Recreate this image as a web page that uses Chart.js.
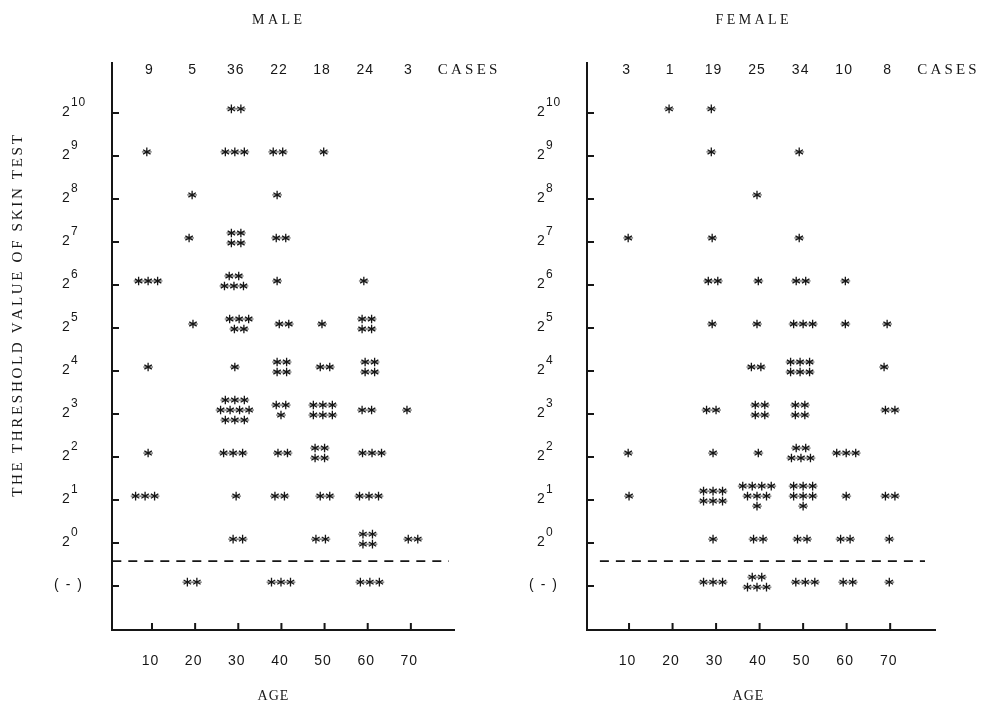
<!DOCTYPE html>
<html>
<head>
<meta charset="utf-8">
<script src="https://cdn.jsdelivr.net/npm/chart.js@4.4.1/dist/chart.umd.min.js"></script>
<style>
  html, body { margin: 0; padding: 0; background: #fff; }
  #wrap { position: relative; width: 981px; height: 703px; overflow: hidden; }
  .panel { position: absolute; top: 0; height: 703px; }
  #p-male { left: 0; width: 520px; }
  #p-female { left: 490px; width: 491px; }
</style>
</head>
<body>
<div id="wrap">
  <div class="panel" id="p-male"><canvas id="c-male"></canvas></div>
  <div class="panel" id="p-female"><canvas id="c-female"></canvas></div>
</div>
<script>
/* Skin test threshold by age, male vs female. Each entry = one cluster of
   asterisks ("/" separates stacked rows, one * per case). */

const AGE_TICKS = [10, 20, 30, 40, 50, 60, 70];
const LEVELS = [-1, 0, 1, 2, 3, 4, 5, 6, 7, 8, 9, 10]; // -1 = "( - )", n = 2^n
const MALE_CASES = [9, 5, 36, 22, 18, 24, 3];
const FEMALE_CASES = [3, 1, 19, 25, 34, 10, 8];
const CUTOFF = -0.42; // dashed separator between 2^0 and (-)

const maleLevel = [10, 9, 9, 9, 9, 8, 8, 7, 7, 7, 6, 6, 6, 6, 5, 5, 5, 5, 5, 4, 4, 4, 4, 4,
  3, 3, 3, 3, 3, 2, 2, 2, 2, 2, 1, 1, 1, 1, 1, 0, 0, 0, 0, -1, -1, -1];
const maleAge = [29.5, 8.8, 29.2, 39.2, 49.8, 19.3, 39.0, 18.6, 29.5, 39.9, 9.1, 29.0, 39.0, 59.1,
  19.5, 30.2, 40.6, 49.4, 59.8, 9.1, 29.2, 40.1, 50.1, 60.5, 29.2, 39.9, 49.6, 59.8, 69.1,
  9.1, 28.8, 40.3, 48.9, 61.0, 8.4, 29.5, 39.6, 50.1, 60.3, 29.9, 49.1, 60.0, 70.5, 19.3, 39.9, 60.5];
const maleStars = ["**", "*", "***", "**", "*", "*", "*", "*", "**/**", "**", "***", "**/***", "*", "*",
  "*", "***/**", "**", "*", "**/**", "*", "*", "**/**", "**", "**/**", "***/****/***", "**/*", "***/***", "**", "*",
  "*", "***", "**", "**/**", "***", "***", "*", "**", "**", "***", "**", "**", "**/**", "**", "**", "***", "***"];
const maleCutoffX = [0.8, 78.8];

const femaleLevel = [10, 10, 9, 9, 8, 7, 7, 7, 6, 6, 6, 6, 5, 5, 5, 5, 5, 4, 4, 4, 3, 3, 3, 3,
  2, 2, 2, 2, 2, 1, 1, 1, 1, 1, 1, 0, 0, 0, 0, 0, -1, -1, -1, -1, -1];
const femaleAge = [19.2, 28.9, 28.9, 49.1, 39.4, 9.8, 29.1, 49.1, 29.3, 39.7, 49.5, 59.7,
  29.1, 39.4, 50.0, 59.7, 69.3, 39.2, 49.3, 68.6, 28.9, 40.1, 49.3, 70.0,
  9.8, 29.3, 39.7, 49.5, 59.9, 10.0, 29.3, 39.4, 50.0, 59.9, 70.0,
  29.3, 39.7, 49.8, 59.7, 69.8, 29.3, 39.4, 50.5, 60.3, 69.8];
const femaleStars = ["*", "*", "*", "*", "*", "*", "*", "*", "**", "*", "**", "*", "*", "*", "***", "*", "*",
  "**", "***/***", "*", "**", "**/**", "**/**", "**", "*", "*", "*", "**/***", "***",
  "*", "***/***", "****/***/*", "***/***/*", "*", "**", "*", "**", "**", "**", "*",
  "***", "**/***", "***", "**", "*"];
const femaleCutoffX = [3.3, 78.0];

const INK = "#161616";
const SERIF = '"Liberation Serif", "DejaVu Serif", serif';
const SANS = '"Liberation Sans", "DejaVu Sans", sans-serif';

/* ---------------- drawing helpers ---------------- */
function spacedText(ctx, text, x, y, gap, align) {
  const chars = [...text];
  const ws = chars.map(ch => ctx.measureText(ch).width);
  const total = ws.reduce((a, b) => a + b, 0) + gap * (chars.length - 1);
  let cx = align === "center" ? x - total / 2 : align === "right" ? x - total : x;
  ctx.textAlign = "left";
  chars.forEach((ch, i) => { ctx.fillText(ch, cx, y); cx += ws[i] + gap; });
}

function asterisk(ctx, x, y, r) {
  const dx = r * 0.87, dy = r * 0.5;
  ctx.lineWidth = 1.3;
  ctx.beginPath();
  ctx.moveTo(x, y - r); ctx.lineTo(x, y + r);
  ctx.moveTo(x - dx, y - dy); ctx.lineTo(x + dx, y + dy);
  ctx.moveTo(x - dx, y + dy); ctx.lineTo(x + dx, y - dy);
  ctx.stroke();
  ctx.lineWidth = 0.8;
  ctx.beginPath(); ctx.moveTo(x - r - 0.6, y); ctx.lineTo(x + r + 0.6, y); ctx.stroke();
}

/* stars: one glyph per case, laid out round the point the scales give */
const starPlugin = {
  id: "stars",
  afterDatasetsDraw(chart) {
    const ctx = chart.ctx, ds = chart.data.datasets[0];
    const meta = chart.getDatasetMeta(0);
    ctx.save();
    ctx.strokeStyle = INK;
    meta.data.forEach((el, i) => {
      const rows = ds.data[i].p.split("/");
      const cy = el.y - 4; // typewriter asterisk sits high on the line
      rows.forEach((row, ri) => {
        const ry = cy + (ri - (rows.length - 1) / 2) * 10;
        for (let j = 0; j < row.length; j++) asterisk(ctx, el.x + (j - (row.length - 1) / 2) * 9.5, ry, 4.3);
      });
    });
    ctx.restore();
  },
};

/* ticks, labels, case counts, titles */
const decorPlugin = {
  id: "decor",
  afterDraw(chart, args, o) {
    const { ctx, chartArea: a, scales: { x, y } } = chart;
    ctx.save();
    ctx.fillStyle = INK; ctx.strokeStyle = INK;

    ctx.lineWidth = 2;
    ctx.beginPath();
    LEVELS.forEach(v => { const py = y.getPixelForValue(v); ctx.moveTo(a.left, py); ctx.lineTo(a.left + 7, py); });
    AGE_TICKS.forEach(v => { const px = x.getPixelForValue(v); ctx.moveTo(px, a.bottom); ctx.lineTo(px, a.bottom - 7); });
    ctx.stroke();

    LEVELS.forEach(v => {
      const py = y.getPixelForValue(v), lx = a.left - 50;
      ctx.font = `14px ${SANS}`;
      if (v < 0) {
        ctx.textBaseline = "middle";
        spacedText(ctx, "( - )", a.left - 44, py - 1, 1.5, "center");
      } else {
        ctx.textBaseline = "alphabetic";
        ctx.textAlign = "left";
        ctx.fillText("2", lx, py + 3);
        ctx.font = `12px ${SANS}`;
        spacedText(ctx, String(v), lx + 9, py - 7, 0.8, "left");
      }
    });

    ctx.font = `14px ${SANS}`;
    ctx.textBaseline = "middle";
    AGE_TICKS.forEach(v => spacedText(ctx, String(v), x.getPixelForValue(v) - 2, a.bottom + 31, 1, "center"));
    o.cases.forEach((n, i) => spacedText(ctx, String(n), x.getPixelForValue(AGE_TICKS[i]) - 3, 70, 1, "center"));

    ctx.font = `15px ${SERIF}`;
    spacedText(ctx, "CASES", x.getPixelForValue(70) + 27, 70, 3.2, "left");
    ctx.font = `14px ${SERIF}`;
    spacedText(ctx, o.title, o.titleX, 20, 3.4, "center");
    spacedText(ctx, "AGE", o.titleX - 4, 696, 1, "center");

    if (o.yTitle) {
      ctx.translate(18, 316);
      ctx.rotate(-Math.PI / 2);
      ctx.font = `15px ${SERIF}`;
      spacedText(ctx, o.yTitle, 0, 0, 2.7, "center");
    }
    ctx.restore();
  },
};

function makePanel(canvasId, ages, levels, stars, cutoffX, cfg) {
  const clusters = ages.map((a, i) => ({ x: a, y: levels[i], p: stars[i] }));
  const axis = (min, max) => ({
    type: "linear", min, max,
    grid: { display: false, drawTicks: false },
    ticks: { display: false },
    border: { display: true, width: 2, color: INK },
  });
  return new Chart(document.getElementById(canvasId), {
    type: "scatter",
    data: {
      datasets: [
        { data: clusters, pointRadius: 0, pointHoverRadius: 0, borderWidth: 0 },
        {
          data: cutoffX.map(v => ({ x: v, y: CUTOFF })), showLine: true,
          borderColor: INK, borderWidth: 1.8, borderDash: [9, 7], pointRadius: 0, pointHoverRadius: 0,
        },
      ],
    },
    options: {
      responsive: true, maintainAspectRatio: false, animation: false, events: [],
      layout: { autoPadding: false, padding: cfg.padding },
      scales: { x: axis(cfg.xMin, cfg.xMax), y: axis(-2.02, 11.16) },
      plugins: {
        legend: { display: false }, tooltip: { enabled: false },
        decor: { cases: cfg.cases, title: cfg.title, titleX: cfg.titleX, yTitle: cfg.yTitle },
      },
    },
    plugins: [starPlugin, decorPlugin],
  });
}

makePanel("c-male", maleAge, maleLevel, maleStars, maleCutoffX, {
  padding: { left: 112, right: 66, top: 63, bottom: 73 },
  xMin: 0.73, xMax: 80, cases: MALE_CASES, title: "MALE", titleX: 277,
  yTitle: "THE THRESHOLD VALUE OF SKIN TEST",
});
makePanel("c-female", femaleAge, femaleLevel, femaleStars, femaleCutoffX, {
  padding: { left: 97, right: 46, top: 63, bottom: 73 },
  xMin: 0.34, xMax: 80.3, cases: FEMALE_CASES, title: "FEMALE", titleX: 262,
});
</script>
</body>
</html>
